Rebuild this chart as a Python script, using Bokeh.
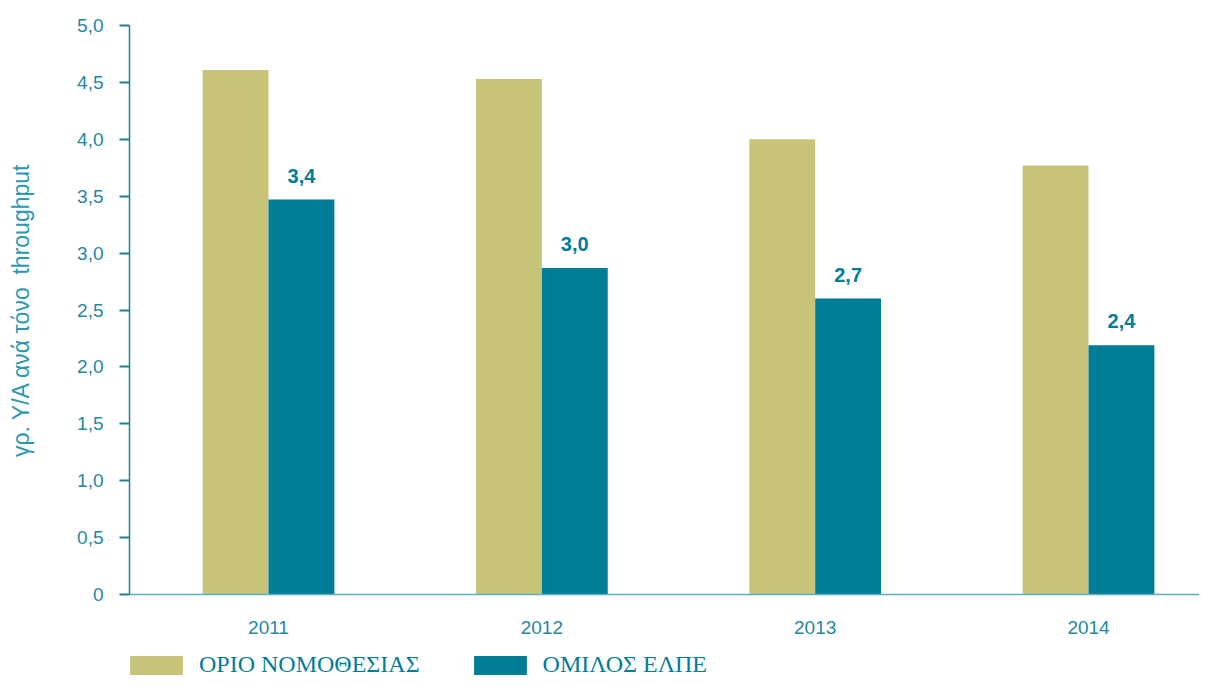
from bokeh.plotting import figure
from bokeh.layouts import column
from bokeh.models import ColumnDataSource, Range1d, FixedTicker, Legend, LegendItem
from bokeh.core.properties import value
from bokeh.embed import file_html
from bokeh.resources import INLINE
import numpy as np

years = ["2011", "2012", "2013", "2014"]
limit_vals = [4.61, 4.53, 4.00, 3.77]          # ΟΡΙΟ ΝΟΜΟΘΕΣΙΑΣ
group_vals = [3.47, 2.87, 2.60, 2.19]          # ΟΜΙΛΟΣ ΕΛΠΕ
group_labels = ["3,4", "3,0", "2,7", "2,4"]
y_ticks = [0, 0.5, 1.0, 1.5, 2.0, 2.5, 3.0, 3.5, 4.0, 4.5, 5.0]
y_tick_labels = ["0", "0,5", "1,0", "1,5", "2,0", "2,5", "3,0", "3,5", "4,0", "4,5", "5,0"]
series_names = ["ΟΡΙΟ ΝΟΜΟΘΕΣΙΑΣ", "ΟΜΙΛΟΣ ΕΛΠΕ"]
y_title = "γρ. Υ/Α ανά τόνο\u00a0 throughput"

OLIVE = "#C7C479"
TEAL = "#007D97"
TXT = "#1F88A3"

idx = np.arange(len(years))
bw = 0.241
src = ColumnDataSource(dict(
    x_limit=idx - bw / 2, x_group=idx + bw / 2,
    limit=limit_vals, group=group_vals, lab=group_labels,
))

W = 1199
p = figure(width=W, height=642, output_backend="svg", toolbar_location=None,
           x_range=Range1d(-0.5085, 3.406), y_range=Range1d(0, 5.0),
           min_border_left=129, min_border_right=0, min_border_top=25,
           min_border_bottom=48)
p.outline_line_color = None
p.xgrid.grid_line_color = None
p.ygrid.grid_line_color = None

p.vbar(x="x_limit", top="limit", width=bw, source=src, fill_color=OLIVE, line_color=None)
p.vbar(x="x_group", top="group", width=bw, source=src, fill_color=TEAL, line_color=None)

p.text(x="x_group", y="group", text="lab", source=src, y_offset=-17,
       text_align="center", text_baseline="bottom", text_color=TEAL,
       text_font=value("Liberation Sans"), text_font_style="bold", text_font_size="20px")

# x axis
p.xaxis.ticker = FixedTicker(ticks=list(idx))
p.xaxis.major_label_overrides = {int(i): y for i, y in zip(idx, years)}
p.xaxis.major_tick_line_color = None
p.xaxis.minor_tick_line_color = None
p.xaxis.axis_line_color = "#5AAFC0"
p.xaxis.axis_line_width = 1.5
p.xaxis.major_label_standoff = 20
p.xaxis.major_label_text_font = "Liberation Sans"
p.xaxis.major_label_text_font_size = "19px"
p.xaxis.major_label_text_color = TXT

# y axis
p.yaxis.ticker = FixedTicker(ticks=y_ticks)
p.yaxis.major_label_overrides = {t: l for t, l in zip(y_ticks, y_tick_labels)}
p.yaxis.minor_tick_line_color = None
p.yaxis.major_tick_in = 0
p.yaxis.major_tick_out = 10
p.yaxis.major_tick_line_width = 2
p.yaxis.major_tick_line_color = "#1F7F97"
p.yaxis.axis_line_color = "#1F7F97"
p.yaxis.axis_line_width = 1.5
p.yaxis.major_label_standoff = 16
p.yaxis.major_label_text_font = "Liberation Sans"
p.yaxis.major_label_text_font_size = "19px"
p.yaxis.major_label_text_color = TXT
p.yaxis.axis_label = y_title
p.yaxis.axis_label_text_font = "Liberation Sans"
p.yaxis.axis_label_text_font_style = "normal"
p.yaxis.axis_label_text_font_size = "23px"
p.yaxis.axis_label_text_color = "#2C98B2"
p.yaxis.axis_label_standoff = 40

# legend strip below the chart (proxy bars kept out of view)
pl = figure(width=W, height=36, output_backend="svg", toolbar_location=None,
            x_range=Range1d(0, 1), y_range=Range1d(10, 11),
            x_axis_type=None, y_axis_type=None,
            min_border_left=129, min_border_right=0, min_border_top=0, min_border_bottom=0)
pl.outline_line_color = None
d1 = pl.vbar(x="x_limit", top="limit", width=bw, source=src, fill_color=OLIVE, line_color=None)
d2 = pl.vbar(x="x_group", top="group", width=bw, source=src, fill_color=TEAL, line_color=None)

legend = Legend(items=[LegendItem(label=series_names[0], renderers=[d1]),
                       LegendItem(label=series_names[1], renderers=[d2])],
                orientation="horizontal", location=(-6, 0),
                glyph_width=66, glyph_height=24, label_height=24, label_standoff=10,
                spacing=47, padding=0, margin=0, border_line_color=None,
                background_fill_alpha=0,
                label_text_font="Liberation Serif", label_text_font_size="24px",
                label_text_color=TEAL)
pl.add_layout(legend, "center")

open("out.html", "w").write(file_html(column(p, pl), INLINE))
